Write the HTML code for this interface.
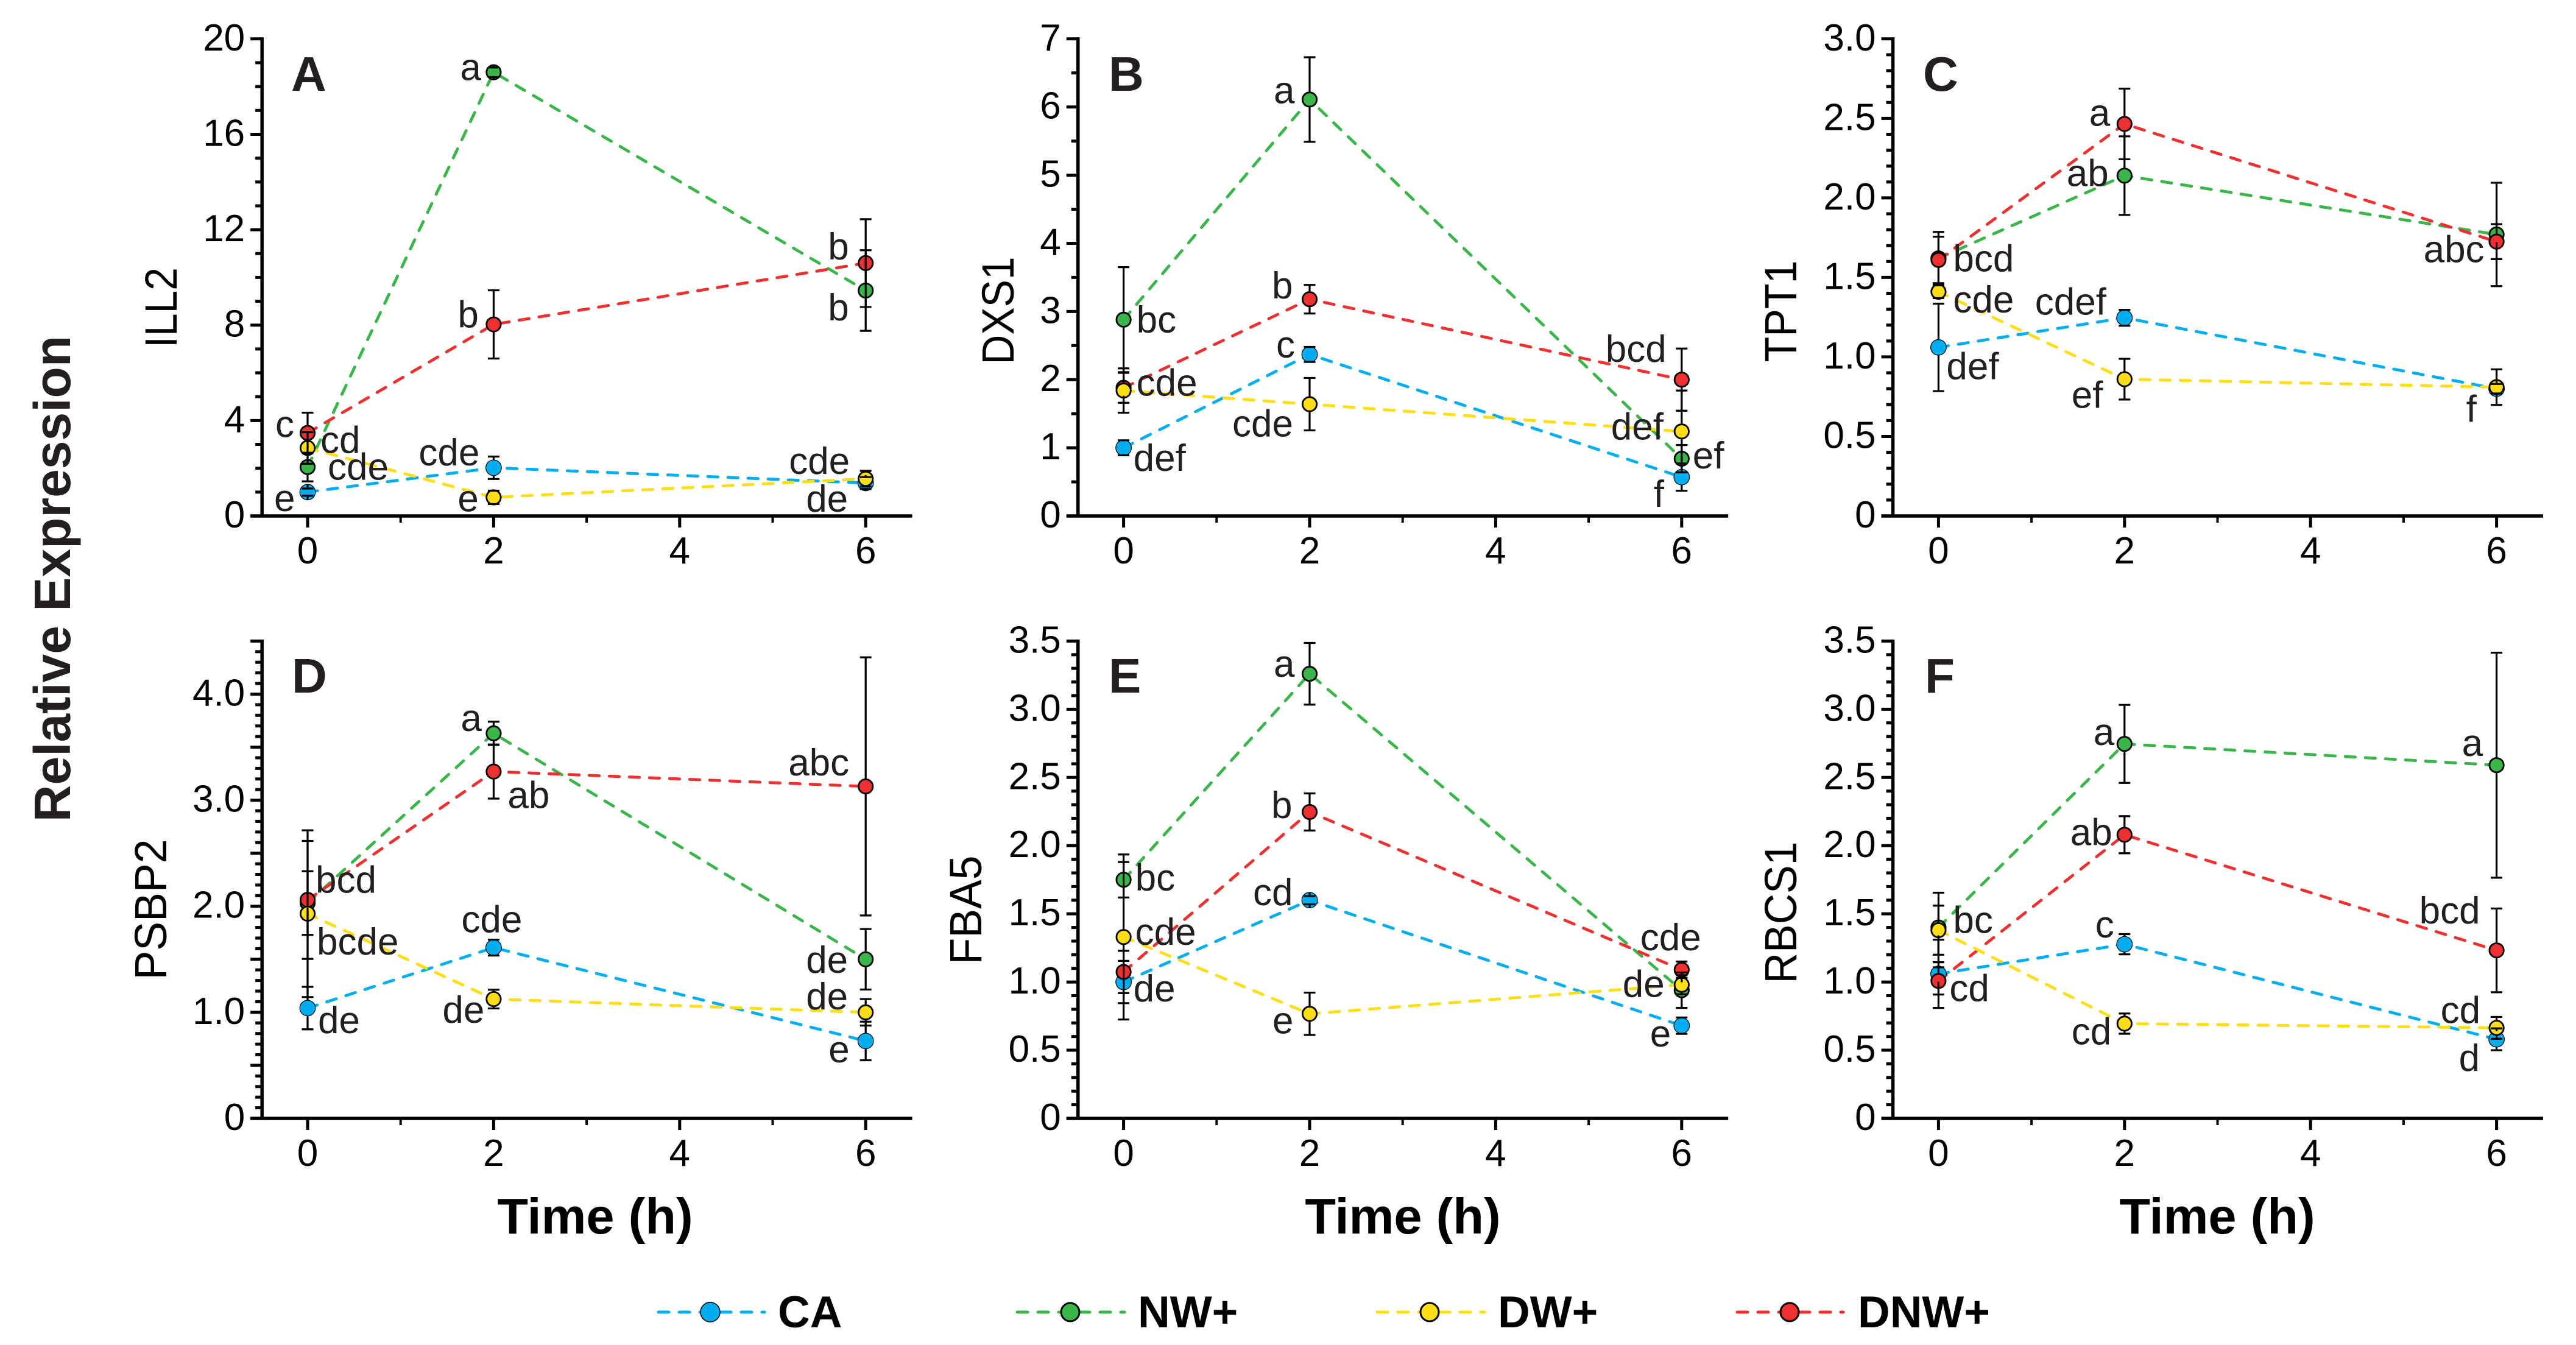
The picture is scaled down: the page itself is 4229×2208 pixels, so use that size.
<!DOCTYPE html>
<html lang="en">
<head>
<meta charset="utf-8">
<title>Relative Expression time course</title>
<style>
html,body{margin:0;padding:0;background:#fff;}
svg{display:block;font-family:"Liberation Sans",Arial,sans-serif;}
</style>
</head>
<body>
<svg id="figure" xmlns="http://www.w3.org/2000/svg" width="4229" height="2208" viewBox="0 0 4229 2208">
<rect x="0" y="0" width="4229" height="2208" fill="#ffffff"/>
<text transform="translate(115,950) rotate(-90)" text-anchor="middle" font-size="84" font-weight="700" fill="#231f20">Relative Expression</text>
<g>
<g>
<line x1="1081" x2="1255" y1="2154" y2="2154" stroke="#00aeef" stroke-width="5" stroke-dasharray="17,17" stroke-linecap="round"/>
<circle cx="1166" cy="2154" r="16" fill="#00aeef" stroke="#000" stroke-width="1.5"/>
<text x="1277" y="2179" font-size="73" font-weight="700" fill="#000">CA</text>
</g>
<g>
<line x1="1670" x2="1846" y1="2154" y2="2154" stroke="#39b54a" stroke-width="5" stroke-dasharray="17,17" stroke-linecap="round"/>
<circle cx="1757" cy="2154" r="15" fill="#39b54a" stroke="#000" stroke-width="3"/>
<text x="1868" y="2179" font-size="73" font-weight="700" fill="#000">NW+</text>
</g>
<g>
<line x1="2261" x2="2437" y1="2154" y2="2154" stroke="#ffde17" stroke-width="5" stroke-dasharray="17,17" stroke-linecap="round"/>
<circle cx="2347" cy="2154" r="15" fill="#ffde17" stroke="#000" stroke-width="3"/>
<text x="2459" y="2179" font-size="73" font-weight="700" fill="#000">DW+</text>
</g>
<g>
<line x1="2852" x2="3026" y1="2154" y2="2154" stroke="#ef3030" stroke-width="5" stroke-dasharray="17,17" stroke-linecap="round"/>
<circle cx="2938" cy="2154" r="15" fill="#ef3030" stroke="#000" stroke-width="3"/>
<text x="3050" y="2179" font-size="73" font-weight="700" fill="#000">DNW+</text>
</g>
</g>
</svg>
<script>
// ---------- Shared categories ----------
const timePoints = [0, 2, 6];
const xTickValues = [0, 1, 2, 3, 4, 5, 6];
const xTickLabels = ["0", "2", "4", "6"];
const seriesNames = ["ca", "nw", "dnw", "dw"];

// ---------- Panel A: ILL2 ----------
const ill2CA = [1.0, 2.02, 1.38];
const ill2NW = [2.05, 18.6, 9.45];
const ill2DNW = [3.48, 8.03, 10.6];
const ill2DW = [2.85, 0.78, 1.56];
const ill2CAErr = [0.15, 0.47, 0.25];
const ill2NWErr = [0.6, 0.2, 1.69];
const ill2DNWErr = [0.85, 1.43, 1.84];
const ill2DWErr = [0.66, 0.28, 0.33];
const ill2Ticks = [0, 4, 8, 12, 16, 20];
const ill2TickLabels = ["0", "4", "8", "12", "16", "20"];

// ---------- Panel B: DXS1 ----------
const dxs1CA = [1.0, 2.37, 0.57];
const dxs1NW = [2.88, 6.11, 0.84];
const dxs1DNW = [1.88, 3.18, 2.0];
const dxs1DW = [1.84, 1.64, 1.24];
const dxs1CAErr = [0.11, 0.11, 0.2];
const dxs1NWErr = [0.77, 0.62, 0.2];
const dxs1DNWErr = [0.22, 0.21, 0.456];
const dxs1DWErr = [0.325, 0.385, 0.6];
const dxs1Ticks = [0, 1, 2, 3, 4, 5, 6, 7];
const dxs1TickLabels = ["0", "1", "2", "3", "4", "5", "6", "7"];

// ---------- Panel C: TPT1 ----------
const tpt1CA = [1.06, 1.246, 0.8];
const tpt1NW = [1.62, 2.14, 1.77];
const tpt1DNW = [1.61, 2.465, 1.725];
const tpt1DW = [1.41, 0.86, 0.81];
const tpt1CAErr = [0.275, 0.05, 0.03];
const tpt1NWErr = [0.166, 0.247, 0.325];
const tpt1DNWErr = [0.146, 0.222, 0.11];
const tpt1DWErr = [0.04, 0.128, 0.112];
const tpt1Ticks = [0, 0.5, 1, 1.5, 2, 2.5, 3];
const tpt1TickLabels = ["0", "0.5", "1.0", "1.5", "2.0", "2.5", "3.0"];

// ---------- Panel D: PSBP2 ----------
const psbp2CA = [1.04, 1.61, 0.73];
const psbp2NW = [2.03, 3.63, 1.5];
const psbp2DNW = [2.06, 3.27, 3.13];
const psbp2DW = [1.93, 1.125, 1.0];
const psbp2CAErr = [0.2, 0.075, 0.182];
const psbp2NWErr = [0.3, 0.11, 0.285];
const psbp2DNWErr = [0.556, 0.255, 1.217];
const psbp2DWErr = [0.786, 0.088, 0.125];
const psbp2Ticks = [0, 1, 2, 3, 4];
const psbp2TickLabels = ["0", "1.0", "2.0", "3.0", "4.0"];

// ---------- Panel E: FBA5 ----------
const fba5CA = [1.0, 1.6, 0.68];
const fba5NW = [1.75, 3.26, 0.94];
const fba5DNW = [1.074, 2.247, 1.09];
const fba5DW = [1.33, 0.767, 0.98];
const fba5CAErr = [0.155, 0.03, 0.06];
const fba5NWErr = [0.13, 0.226, 0.13];
const fba5DNWErr = [0.155, 0.136, 0.06];
const fba5DWErr = [0.605, 0.155, 0.07];
const fba5Ticks = [0, 0.5, 1, 1.5, 2, 2.5, 3, 3.5];
const fba5TickLabels = ["0", "0.5", "1.0", "1.5", "2.0", "2.5", "3.0", "3.5"];

// ---------- Panel F: RBCS1 ----------
const rbcs1CA = [1.06, 1.277, 0.58];
const rbcs1NW = [1.4, 2.746, 2.59];
const rbcs1DNW = [1.008, 2.08, 1.232];
const rbcs1DW = [1.38, 0.695, 0.664];
const rbcs1CAErr = [0.25, 0.074, 0.08];
const rbcs1NWErr = [0.255, 0.286, 0.825];
const rbcs1DNWErr = [0.1, 0.136, 0.307];
const rbcs1DWErr = [0.18, 0.074, 0.08];
const rbcs1Ticks = [0, 0.5, 1, 1.5, 2, 2.5, 3, 3.5];
const rbcs1TickLabels = ["0", "0.5", "1.0", "1.5", "2.0", "2.5", "3.0", "3.5"];

const NS = "http://www.w3.org/2000/svg";
const svg = document.getElementById("figure");
const COLORS = { ca: "#00aeef", nw: "#39b54a", dnw: "#ef3030", dw: "#ffde17" };
const HOUR_PX = 152.7;
const MARKER_EDGE = 13;

function make(parent, tag, attrs, text) {
  const node = document.createElementNS(NS, tag);
  for (const key in attrs) node.setAttribute(key, attrs[key]);
  if (text !== undefined) node.textContent = text;
  parent.appendChild(node);
  return node;
}

function drawPanel(p) {
  const xScale = h => p.x0 + h * HOUR_PX;
  const yScale = v => p.yBottom - (v / p.yMax) * (p.yBottom - p.yTop);
  const axisX = xScale(-0.49);

  const g = make(svg, "g", {});
  
  

  // Y axis ticks
  const yMinorCount = Math.round(p.yMax / p.minorStep);
  for (let i = 0; i <= yMinorCount; i++) {
    const v = i * p.minorStep;
    const isLong = Math.abs(v / p.longStep - Math.round(v / p.longStep)) < 1e-6;
    const tick = make(g, "line", { x1: axisX - (isLong ? 19 : 11), x2: axisX, y1: yScale(v), y2: yScale(v), stroke: "#000", "stroke-width": 5 });
    
    
  }

  // Y tick labels
  p.ticks.forEach((v, i) => {
    const label = make(g, "text", { x: axisX - 28, y: yScale(v) + 19, "text-anchor": "end", "font-size": 62, fill: "#000" }, p.tickLabels[i]);
    
    
  });

  // X ticks
  xTickValues.forEach(h => {
    const isMajor = h % 2 === 0;
    const tick = make(g, "line", { x1: xScale(h), x2: xScale(h), y1: p.yBottom, y2: p.yBottom + (isMajor ? 19 : 11), stroke: "#000", "stroke-width": isMajor ? 5 : 4 });
    
    
  });
  xTickLabels.forEach(t => {
    const label = make(g, "text", { x: xScale(Number(t)), y: p.yBottom + 78, "text-anchor": "middle", "font-size": 62, fill: "#000" }, t);
    
    
  });

  // Axis spines
  const yAxis = make(g, "line", { x1: axisX, x2: axisX, y1: yScale(p.yMax) - 2.5, y2: p.yBottom + 2.5, stroke: "#000", "stroke-width": 5.5 });
  
  
  const xAxis = make(g, "line", { x1: axisX - 19, x2: xScale(6.5), y1: p.yBottom, y2: p.yBottom, stroke: "#000", "stroke-width": 5.5 });
  
  

  // Axis titles
  const yTitle = make(g, "text", { transform: "translate(" + p.titleX + "," + p.titleY + ") rotate(-90)", "text-anchor": "middle", "font-size": 74, textLength: p.titleLen, lengthAdjust: "spacingAndGlyphs", fill: "#000" }, p.title);
  
  
  if (p.timeX) {
    const xTitle = make(g, "text", { x: p.timeX, y: 2025, "text-anchor": "middle", "font-size": 83, "font-weight": 700, fill: "#000" }, "Time (h)");
    
    
  }

  // Panel letter
  const letter = make(g, "text", { x: p.letterX, y: p.letterY, "font-size": 80, "font-weight": 700, fill: "#231f20" }, p.letter);
  
  

  // Series lines
  seriesNames.forEach((name, s) => {
    const pts = timePoints.map((h, i) => xScale(h) + "," + yScale(p.values[s][i])).join(" ");
    const line = make(g, "polyline", { points: pts, fill: "none", stroke: COLORS[name], "stroke-width": 4.8, "stroke-dasharray": "16.5,16.5", "stroke-linecap": "round" });
    
    
  });

  // Markers
  seriesNames.forEach((name, s) => {
    timePoints.forEach((h, i) => {
      const thin = name === "ca";
      const dot = make(g, "circle", { cx: xScale(h), cy: yScale(p.values[s][i]), r: thin ? 12.8 : 11.7, fill: COLORS[name], stroke: "#000", "stroke-width": thin ? 1.2 : 2.8 });
      
      
    });
  });

  // Error bars: each whisker starts at its own marker edge and runs to its cap
  seriesNames.forEach((name, s) => {
    timePoints.forEach((h, i) => {
      const x = xScale(h);
      const cy = yScale(p.values[s][i]);
      const hi = yScale(p.values[s][i] + p.errors[s][i]);
      const lo = yScale(p.values[s][i] - p.errors[s][i]);
      const d = "M" + x + " " + (cy - MARKER_EDGE) + "V" + hi + "M" + x + " " + (cy + MARKER_EDGE) + "V" + lo +
        "M" + (x - 9.5) + " " + hi + "H" + (x + 9.5) + "M" + (x - 9.5) + " " + lo + "H" + (x + 9.5);
      const bar = make(g, "path", { d: d, fill: "none", stroke: "#000", "stroke-width": 3.2 });
      
      
    });
  });

  // Significance letter, offset from its own point
  return function annotate(text, s, i, dx, dy) {
    const label = make(g, "text", { x: xScale(timePoints[i]) + dx, y: yScale(p.values[s][i]) + dy, "font-size": 62, fill: "#231f20" }, text);
    
    
  };
}

const CA = 0, NW = 1, DNW = 2, DW = 3;
const TOP = { yTop: 63.8, yBottom: 847, letterY: 149 };
const BOTTOM = { yTop: 1052.4, yBottom: 1836, letterY: 1137 };

const a = drawPanel(Object.assign({}, TOP, {
  letter: "A", title: "ILL2", titleLen: 132, titleX: 290, titleY: 505, x0: 505, letterX: 478,
  yMax: 20, longStep: 4, minorStep: 1, ticks: ill2Ticks, tickLabels: ill2TickLabels,
  values: [ill2CA, ill2NW, ill2DNW, ill2DW], errors: [ill2CAErr, ill2NWErr, ill2DNWErr, ill2DWErr]
}));
a("c", DNW, 0, -53, 7);
a("cd", DW, 0, 21, 8);
a("cde", NW, 0, 33, 21);
a("e", CA, 0, -55, 31);
a("a", NW, 1, -55, 13);
a("b", DNW, 1, -59, 5);
a("cde", CA, 1, -123, -4);
a("e", DW, 1, -59, 23);
a("b", DNW, 2, -62, -6);
a("b", NW, 2, -62, 49);
a("cde", DW, 2, -126, -8);
a("de", CA, 2, -98, 47);

const b = drawPanel(Object.assign({}, TOP, {
  letter: "B", title: "DXS1", titleLen: 177, titleX: 1664, titleY: 510, x0: 1844.6, letterX: 1820,
  yMax: 7, longStep: 1, minorStep: 0.5, ticks: dxs1Ticks, tickLabels: dxs1TickLabels,
  values: [dxs1CA, dxs1NW, dxs1DNW, dxs1DW], errors: [dxs1CAErr, dxs1NWErr, dxs1DNWErr, dxs1DWErr]
}));
b("bc", NW, 0, 21, 21);
b("cde", DNW, 0, 21, 13);
b("def", CA, 0, 16, 38);
b("a", NW, 1, -59, 6);
b("b", DNW, 1, -62, -1);
b("c", CA, 1, -55, 5);
b("cde", DW, 1, -127, 53);
b("bcd", DNW, 2, -125, -29);
b("def", DW, 2, -116, 13);
b("ef", NW, 2, 18, 16);
b("f", CA, 2, -46, 49);

const c = drawPanel(Object.assign({}, TOP, {
  letter: "C", title: "TPT1", titleLen: 167, titleX: 2949, titleY: 511, x0: 3182.4, letterX: 3157,
  yMax: 3, longStep: 0.5, minorStep: 0.1, ticks: tpt1Ticks, tickLabels: tpt1TickLabels,
  values: [tpt1CA, tpt1NW, tpt1DNW, tpt1DW], errors: [tpt1CAErr, tpt1NWErr, tpt1DNWErr, tpt1DWErr]
}));
c("bcd", DNW, 0, 24, 19);
c("cde", DW, 0, 24, 34);
c("def", CA, 0, 13, 52);
c("a", DNW, 1, -58, 3);
c("ab", NW, 1, -95, 17);
c("cdef", CA, 1, -147, -5);
c("ef", DW, 1, -87, 47);
c("abc", DNW, 2, -120, 34);
c("f", DW, 2, -50, 57);

const d = drawPanel(Object.assign({}, BOTTOM, {
  letter: "D", title: "PSBP2", titleLen: 231, titleX: 273, titleY: 1493, x0: 505, letterX: 479, timeX: 977,
  yMax: 4.5, longStep: 0.5, minorStep: 0.1, ticks: psbp2Ticks, tickLabels: psbp2TickLabels,
  values: [psbp2CA, psbp2NW, psbp2DNW, psbp2DW], errors: [psbp2CAErr, psbp2NWErr, psbp2DNWErr, psbp2DWErr]
}));
d("bcd", DNW, 0, 13, -12);
d("bcde", DW, 0, 15, 67);
d("de", CA, 0, 17, 41);
d("a", NW, 1, -54, -4);
d("ab", DNW, 1, 23, 60);
d("cde", CA, 1, -53, -25);
d("de", DW, 1, -84, 39);
d("abc", DNW, 2, -127, -18);
d("de", NW, 2, -98, 22);
d("de", DW, 2, -98, -5);
d("e", CA, 2, -61, 35);

const e = drawPanel(Object.assign({}, BOTTOM, {
  letter: "E", title: "FBA5", titleLen: 179, titleX: 1611, titleY: 1494, x0: 1844.6, letterX: 1820, timeX: 2303,
  yMax: 3.5, longStep: 0.5, minorStep: 0.1, ticks: fba5Ticks, tickLabels: fba5TickLabels,
  values: [fba5CA, fba5NW, fba5DNW, fba5DW], errors: [fba5CAErr, fba5NWErr, fba5DNWErr, fba5DWErr]
}));
e("bc", NW, 0, 19, 18);
e("cde", DW, 0, 19, 13);
e("de", CA, 0, 16, 32);
e("a", NW, 1, -59, 5);
e("b", DNW, 1, -63, 10);
e("cd", CA, 1, -93, 8);
e("e", DW, 1, -61, 32);
e("cde", DNW, 2, -68, -32);
e("de", DW, 2, -97, 20);
e("e", CA, 2, -52, 34);

const f = drawPanel(Object.assign({}, BOTTOM, {
  letter: "F", title: "RBCS1", titleLen: 233, titleX: 2949, titleY: 1498, x0: 3182.4, letterX: 3160, timeX: 3640,
  yMax: 3.5, longStep: 0.5, minorStep: 0.1, ticks: rbcs1Ticks, tickLabels: rbcs1TickLabels,
  values: [rbcs1CA, rbcs1NW, rbcs1DNW, rbcs1DW], errors: [rbcs1CAErr, rbcs1NWErr, rbcs1DNWErr, rbcs1DWErr]
}));
f("bc", NW, 0, 24, 9);
f("cd", DNW, 0, 18, 33);
f("a", NW, 1, -51, 2);
f("ab", DNW, 1, -89, 17);
f("c", CA, 1, -48, -11);
f("cd", DW, 1, -87, 34);
f("a", NW, 2, -57, -15);
f("bcd", DNW, 2, -127, -44);
f("cd", DW, 2, -92, -8);
f("d", CA, 2, -62, 52);
</script>
</body>
</html>
